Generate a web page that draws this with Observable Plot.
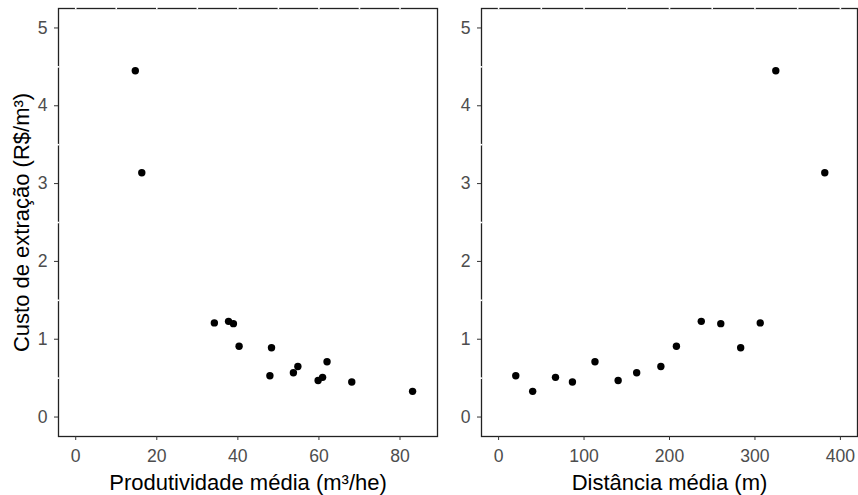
<!DOCTYPE html>
<html><head><meta charset="utf-8">
<script src="https://cdn.jsdelivr.net/npm/d3@7"></script>
<script src="https://cdn.jsdelivr.net/npm/@observablehq/plot@0.6"></script>
<style>
html,body{margin:0;padding:0;background:#fff;}
#wrap{display:flex;width:858px;height:495px;}
</style></head><body><div id="wrap"></div>
<script>
const custo = [4.45, 3.14, 1.21, 1.23, 1.20, 0.91, 0.89, 0.53, 0.57, 0.65, 0.71, 0.47, 0.51, 0.45, 0.33];
const produtividade = [14.7, 16.3, 34.2, 37.7, 38.9, 40.3, 48.3, 47.9, 53.7, 54.8, 62.0, 59.8, 60.9, 68.1, 83.1];
const distancia = [324.4, 381.7, 306.2, 237.2, 260.0, 208.1, 283.3, 20.1, 161.6, 189.9, 112.8, 139.9, 66.6, 86.4, 39.9];
const yTicks = [0, 1, 2, 3, 4, 5];
const prodTicks = [0, 20, 40, 60, 80];
const distTicks = [0, 100, 200, 300, 400];
const yLabel = "Custo de extração (R$/m³)";
const prodLabel = "Produtividade média (m³/he)";
const distLabel = "Distância média (m)";

const FONT = "'Liberation Sans', Arial, sans-serif";
const H = 495, MT = 8, MB = 59;
const yDomain = [-0.25, 5.25];
const yMinor = yTicks.slice(0, -1).map(d => d + 0.5);

function panel({xs, xTicks, xDomain, xLabel, width, marginLeft, marginRight, withYTitle}) {
  const innerW = width - marginLeft - marginRight;
  const innerH = H - MT - MB;
  const step = (xTicks[1] - xTicks[0]) / 2;
  const xGaps = d3.range(xTicks[0], xTicks[xTicks.length - 1] + step / 2, step);
  const data = custo.map((c, i) => ({x: xs[i], y: c}));
  const marks = [
    Plot.frame({stroke: "#222", strokeWidth: 1.3}),
    Plot.tickX(xGaps, {x: d => d, stroke: "white", strokeWidth: 1.6, insetTop: -1.2, insetBottom: innerH - 1.2}),
    Plot.tickY(yMinor, {y: d => d, stroke: "white", strokeWidth: 1.6, insetLeft: -1.2, insetRight: innerW - 1.2}),
    Plot.dot(data, {x: "x", y: "y", r: 3.7, fill: "black", stroke: null}),
    Plot.axisX({ticks: xTicks, tickFormat: d => String(d), tickSize: 4, tickPadding: 9, stroke: "#333", fill: "#4D4D4D", fontSize: 17.6, label: null}),
    Plot.axisY({ticks: yTicks, tickFormat: d => String(d), tickSize: 4, tickPadding: 7, stroke: "#333", fill: "#4D4D4D", fontSize: 17.6, label: null}),
    Plot.text([xLabel], {text: d => d, frameAnchor: "bottom", textAnchor: "middle", dy: 46, lineAnchor: "middle", fontSize: 22, fill: "black"})
  ];
  if (withYTitle) {
    marks.push(Plot.text([yLabel], {text: d => d, frameAnchor: "left", textAnchor: "middle", rotate: -90, dx: -37, lineAnchor: "middle", fontSize: 22, fill: "black"}));
  }
  return Plot.plot({
    width, height: H,
    marginLeft, marginRight, marginTop: MT, marginBottom: MB,
    style: {fontFamily: FONT, background: "white", overflow: "visible"},
    x: {domain: xDomain},
    y: {domain: yDomain},
    marks
  });
}

const wrap = document.getElementById("wrap");
wrap.appendChild(panel({xs: produtividade, xTicks: prodTicks, xDomain: [-4.25, 89.25], xLabel: prodLabel, width: 440, marginLeft: 58, marginRight: 3, withYTitle: true}));
wrap.appendChild(panel({xs: distancia, xTicks: distTicks, xDomain: [-20, 420], xLabel: distLabel, width: 418, marginLeft: 41, marginRight: 1, withYTitle: false}));
</script></body></html>
